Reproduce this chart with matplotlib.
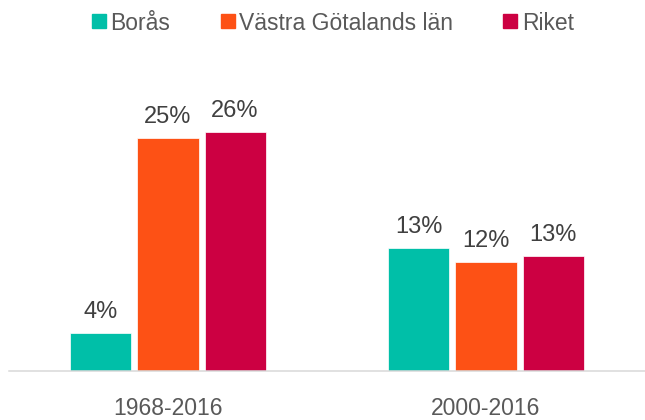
import numpy as np
import matplotlib.pyplot as plt
from matplotlib.lines import Line2D

plt.rcParams['font.family'] = ['Liberation Sans', 'DejaVu Sans']

periods = ['1968-2016', '2000-2016']
series = ['Borås', 'Västra Götalands län', 'Riket']
boras = [4.2, 13.4]
vgl = [25.4, 11.9]
riket = [26.1, 12.6]
colors = ['#00BFA8', '#FD5115', '#CC0042']

fig = plt.figure(figsize=(6.45, 4.2), dpi=100)
ax = fig.add_axes([9 / 645, 49 / 420, 636 / 645, 274.8 / 420])

x = np.arange(len(periods))
step = 0.211
width = 0.192
for i, (vals, c) in enumerate(zip([boras, vgl, riket], colors)):
    pos = x + (i - 1) * step
    ax.bar(pos, vals, width, color=c, edgecolor='white', linewidth=0.5)
    for px, v in zip(pos, vals):
        ax.annotate('{:.0f}%'.format(v), (px, v), xytext=(0, 10.8),
                    textcoords='offset points', ha='center', va='baseline',
                    fontsize=17, color='#404040')

ax.set_xlim(-0.5, 1.5)
ax.set_ylim(0, 30)
ax.set_yticks([])
ax.set_xticks(x)
ax.set_xticklabels(periods, fontsize=16.5, color='#595959')
ax.tick_params(axis='x', length=0, pad=18.5)
for s in ['top', 'left', 'right']:
    ax.spines[s].set_visible(False)
ax.spines['bottom'].set_color('#D9D9D9')
ax.spines['bottom'].set_linewidth(1.1)

handles = [Line2D([], [], marker='s', ls='', markersize=9.4, color=c) for c in colors]
fig.legend(handles, series, loc='center', bbox_to_anchor=(333 / 645, 1 - 23 / 420),
           ncol=3, frameon=False, fontsize=16.5, handlelength=0.6,
           handletextpad=0.2, columnspacing=2.2, labelcolor='#595959')

fig.savefig('out.png', dpi=100)
